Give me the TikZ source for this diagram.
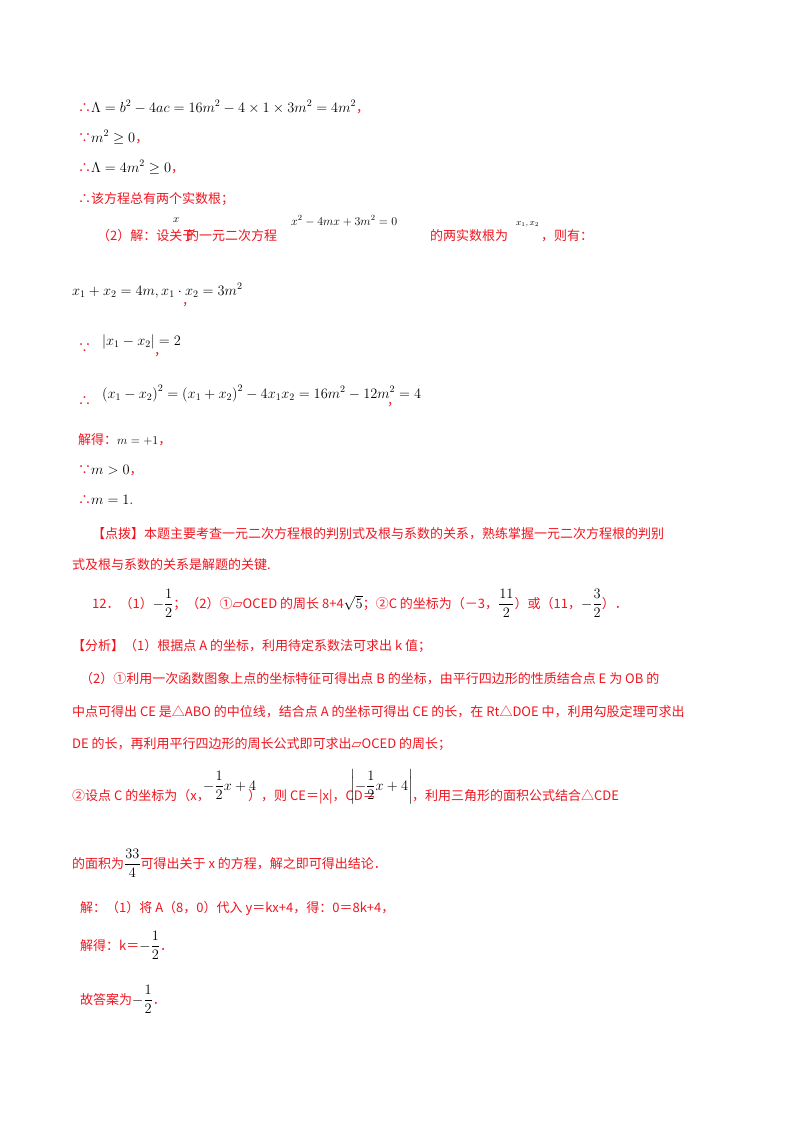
\documentclass[tikz,border=0pt]{standalone}
\usepackage{amsmath}
\usepackage{fontspec}
\setmainfont{Noto Sans CJK SC}
\newfontfamily\djfont{DejaVu Sans}
\definecolor{rd}{RGB}{240,20,30}
\begin{document}
\begin{tikzpicture}[x=1pt,y=-1pt,
 t/.style={anchor=base west,inner sep=0pt,font=\fontsize{13}{15}\selectfont,text=rd},
 m/.style={anchor=base west,inner sep=0pt,font=\fontsize{14}{16}\selectfont,text=black}]
\useasboundingbox (0,0) rectangle (800,1132);
\node[t] (a1) at (78,112) {∴\textcolor{black}{\fontsize{14}{16}\selectfont$\Lambda=b^2-4ac=16m^2-4\times1\times3m^2=4m^2$}，};
\node[t] (a2) at (78,142) {∵\textcolor{black}{\fontsize{14}{16}\selectfont$m^2\geq0$}，};
\node[t] (a3) at (78,172) {∴\textcolor{black}{\fontsize{14}{16}\selectfont$\Lambda=4m^2\geq0$}，};
\node[t] (a4) at (78,203) {∴该方程总有两个实数根；};
\node[t] (a5) at (97,240) {（2）解：设关于};
\node[m,font=\fontsize{11}{12}\selectfont] (a5x) at (173,222) {$x$};
\node[t] (a6) at (186,240) {的一元二次方程};
\node[m,font=\fontsize{12}{12}\selectfont] (a7) at (291,225) {$x^2-4mx+3m^2=0$};
\node[t] (a8) at (430,240) {的两实数根为};
\node[m,font=\fontsize{9}{12}\selectfont] (a9) at (516,225) {$x_1,x_2$};
\node[t] (a10) at (541,240) {，则有：};
\node[m] (b1) at (72,295) {$x_1+x_2=4m,x_1\cdot x_2=3m^2$};
\node[t] (b1c) at (182,305) {，};
\node[t] (b2) at (78,352) {∵};
\node[m] (b2m) at (102,345) {$|x_1-x_2|=2$};
\node[t] (b2c) at (154,355) {，};
\node[t] (b3) at (78,405) {∴};
\node[m] (b3m) at (102,398) {$\left(x_1-x_2\right)^2=\left(x_1+x_2\right)^2-4x_1x_2=16m^2-12m^2=4$};
\node[t] (b3c) at (387,405) {，};
\node[t] (c1) at (78,444) {解得：\textcolor{black}{\fontsize{12}{12}\selectfont$m=+1$}，};
\node[t] (c2) at (78,474) {∵\textcolor{black}{\fontsize{14}{16}\selectfont$m>0$}，};
\node[t] (c3) at (78,504) {∴\textcolor{black}{\fontsize{14}{16}\selectfont$m=1$}.};
\node[t] (d1) at (92,538) {【点拨】本题主要考查一元二次方程根的判别式及根与系数的关系，熟练掌握一元二次方程根的判别};
\node[t] (d2) at (72,569) {式及根与系数的关系是解题的关键.};
\node[t] (e1) at (92,608) {12．（1）\textcolor{black}{\fontsize{14}{16}\selectfont$-\dfrac12$}；（2）①{\djfont ▱}OCED 的周长 8+4\textcolor{black}{\fontsize{14}{16}\selectfont$\sqrt5$}；②C 的坐标为（－3，\textcolor{black}{\fontsize{14}{16}\selectfont$\dfrac{11}{2}$}）或（11，\textcolor{black}{\fontsize{14}{16}\selectfont$-\dfrac32$}）．};
\node[t] (e2) at (72,650) {【分析】（1）根据点 A 的坐标，利用待定系数法可求出 k 值；};
\node[t] (e3) at (80,683) {（2）①利用一次函数图象上点的坐标特征可得出点 B 的坐标，由平行四边形的性质结合点 E 为 OB 的};
\node[t] (e4) at (72,716) {中点可得出 CE 是△ABO 的中位线，结合点 A 的坐标可得出 CE 的长，在 Rt△DOE 中，利用勾股定理可求出};
\node[t] (e5) at (72,748) {DE 的长，再利用平行四边形的周长公式即可求出{\djfont ▱}OCED 的周长；};
\node[t] (e6) at (72,800) {②设点 C 的坐标为（x，};
\node[m] (e6a) at (203,790) {$-\dfrac12 x+4$};
\node[t] (e6c) at (248,800) {），则 CE＝|x|，CD＝};
\node[m] (e6b) at (350,790) {$\left|-\dfrac12 x+4\right|$};
\node[t] (e6d) at (412,800) {，利用三角形的面积公式结合△CDE};
\node[t] (f1) at (72,868) {的面积为\textcolor{black}{\fontsize{14}{16}\selectfont$\dfrac{33}{4}$}可得出关于 x 的方程，解之即可得出结论．};
\node[t] (g1) at (80,912) {解：（1）将 A（8，0）代入 y＝kx+4，得：0＝8k+4，};
\node[t] (g2) at (80,950) {解得：k＝\textcolor{black}{\fontsize{14}{16}\selectfont$-\dfrac12$}．};
\node[t] (g3) at (80,1004) {故答案为\textcolor{black}{\fontsize{14}{16}\selectfont$-\dfrac12$}．};
\end{tikzpicture}
\end{document}
